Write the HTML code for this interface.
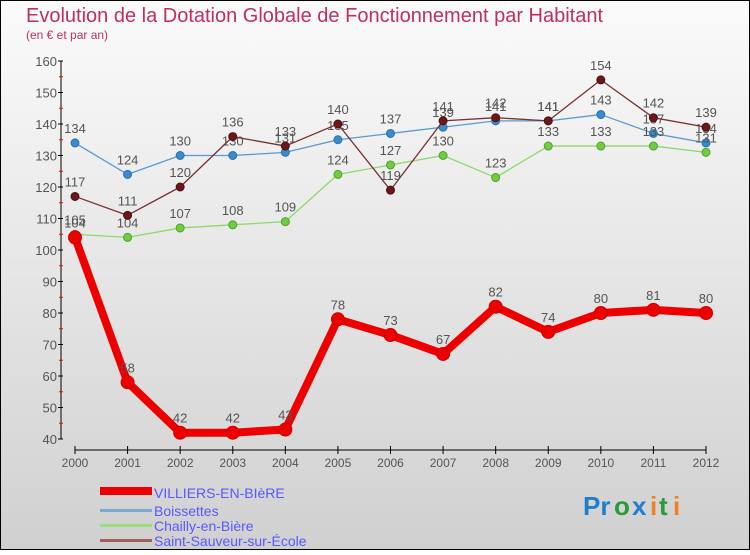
<!DOCTYPE html>
<html><head><meta charset="utf-8"><style>
html,body{margin:0;padding:0;}
body{width:750px;height:550px;overflow:hidden;font-family:"Liberation Sans",sans-serif;}
</style></head><body>
<svg id="chart" width="750" height="550" xmlns="http://www.w3.org/2000/svg">
<defs><linearGradient id="bg" x1="0" y1="0" x2="0" y2="1"><stop offset="0" stop-color="#fbfbfb"/><stop offset="1" stop-color="#d0d0d0"/></linearGradient></defs>
<rect x="0.5" y="0.5" width="749" height="549" fill="url(#bg)" stroke="#000"/>
<text x="26" y="22" font-size="20" fill="#c0305a">Evolution de la Dotation Globale de Fonctionnement par Habitant</text>
<text x="26" y="39" font-size="12" fill="#c0305a">(en € et par an)</text>
<g id="axes"></g>
<g id="series"></g>
<g id="legend">
<rect x="100" y="487" width="52" height="8" fill="#e00"/>
<text x="154" y="498" font-size="14" fill="#5858ff">VILLIERS-EN-BIèRE</text>
<rect x="100" y="509" width="52" height="3" fill="#7aa9d0"/>
<text x="154" y="516" font-size="14" fill="#5858ff">Boissettes</text>
<rect x="100" y="524" width="52" height="3" fill="#9bdc7c"/>
<text x="154" y="531" font-size="14" fill="#5858ff">Chailly-en-Bière</text>
<rect x="100" y="539" width="52" height="3" fill="#a06060"/>
<text x="154" y="546" font-size="14" fill="#5858ff">Saint-Sauveur-sur-École</text>
</g>
<g font-size="26" font-weight="bold">
<text x="583" y="515" fill="#1e7fd0">Pr</text><text x="614" y="515" fill="#2a9a3a">o</text><text x="632" y="515" fill="#1e7fd0">x</text><text x="650" y="515" fill="#f08020">i</text><text x="659" y="515" fill="#2a9a3a">t</text><text x="673" y="515" fill="#f08020">i</text>
</g>
</svg>
<script>
const years=["2000","2001","2002","2003","2004","2005","2006","2007","2008","2009","2010","2011","2012"];
const yTicks=[40,50,60,70,80,90,100,110,120,130,140,150,160];
const villiers=[104,58,42,42,43,78,73,67,82,74,80,81,80];
const boissettes=[134,124,130,130,131,135,137,139,141,141,143,137,134];
const chailly=[105,104,107,108,109,124,127,130,123,133,133,133,131];
const saintSauveur=[117,111,120,136,133,140,119,141,142,141,154,142,139];

const NS="http://www.w3.org/2000/svg";
const X0=75,X1=706,YTOP=61,YBOT=439,VMIN=40,VMAX=160;
function xs(i){return X0+(X1-X0)*i/(years.length-1);}
function ys(v){return YBOT-(v-VMIN)/(VMAX-VMIN)*(YBOT-YTOP);}
function mk(tag,attrs,parent){const e=document.createElementNS(NS,tag);for(const k in attrs)e.setAttribute(k,attrs[k]);parent.appendChild(e);return e;}
const axes=document.getElementById('axes');
let a=mk('line',{x1:61,y1:YTOP,x2:61,y2:YBOT,stroke:'#000','stroke-width':1},axes);


a=mk('line',{x1:75,y1:450,x2:706,y2:450,stroke:'#000','stroke-width':1},axes);


yTicks.forEach((v,i)=>{
 const y=ys(v);
 mk('line',{x1:58,y1:y,x2:63,y2:y,stroke:'#000'},axes);
 if(i<yTicks.length-1){mk('line',{x1:59,y1:ys(v+5),x2:63,y2:ys(v+5),stroke:'#f00'},axes);}
 const t=mk('text',{x:57,y:y+5,'font-size':13,fill:'#555','text-anchor':'end'},axes);
 t.textContent=v;
 
 
});
years.forEach((yr,i)=>{
 const x=xs(i);
 mk('line',{x1:x,y1:446,x2:x,y2:454,stroke:'#000'},axes);
 const t=mk('text',{x:x,y:467,'font-size':12,fill:'#555','text-anchor':'middle'},axes);
 t.textContent=yr;
 
 
});
const series=document.getElementById('series');
function draw(data,name,color,dot,width,r,stroke){
 const g=mk('g',{},series);
 
 
 const pl=mk('polyline',{points:data.map((v,i)=>xs(i)+','+ys(v)).join(' '),fill:'none',stroke:color,'stroke-width':width,'stroke-linejoin':'round'},g);
 
 
 data.forEach((v,i)=>{
  const c=mk('circle',{cx:xs(i),cy:ys(v),r:r,fill:dot,stroke:stroke,'stroke-width':1},g);
  
  
  const t=mk('text',{x:xs(i),y:ys(v)-10,'font-size':13,fill:'#555','text-anchor':'middle'},g);
  t.textContent=v;
  
  
 });
}
draw(boissettes,'boissettes','#5a9ad0','#3a8ad0',1.3,4,'#2a70b0');
draw(chailly,'chailly','#8ed86a','#70cc40',1.3,4,'#50a030');
draw(saintSauveur,'saint-sauveur','#7a3030','#6a1818',1.3,4,'#501010');
draw(villiers,'villiers','#ee0000','#ee0000',8,6.5,'#cc0000');
</script>
</body></html>
